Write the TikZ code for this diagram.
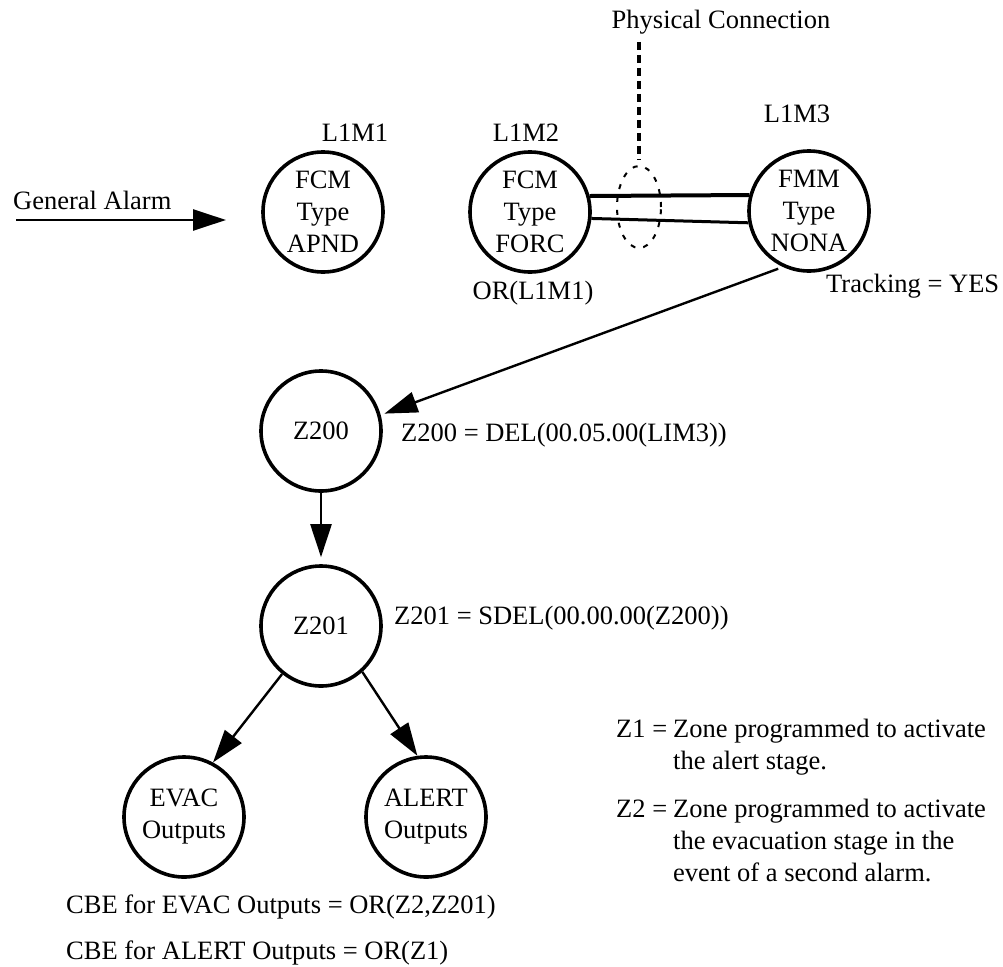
\documentclass[tikz,border=0pt]{standalone}
\usepackage{fontspec}
\setmainfont{Liberation Serif}
\usetikzlibrary{arrows.meta,shapes.geometric}

\begin{document}
\begin{tikzpicture}[x=1pt,y=-1pt,font=\fontsize{26.5}{32}\selectfont,
    zone/.style={circle,draw,line width=3.6pt,minimum size=120pt,inner sep=0pt,align=center},
    txt/.style={inner sep=0pt,anchor=base west},
    flow/.style={line width=2.4pt,-{Triangle[length=33pt,width=21pt]}}]
\useasboundingbox (0,0) rectangle (1003,966);

% modules on the loop
\node[zone] (l1m1) at (323,212) {FCM\\Type\\APND};
\node[zone] (l1m2) at (530,212) {FCM\\Type\\FORC};
\node[zone] (l1m3) at (809,211) {FMM\\Type\\NONA};
\node[txt,anchor=base] (n1) at (355,141) {L1M1};
\node[txt,anchor=base] (n2) at (526,141) {L1M2};
\node[txt,anchor=base] (n3) at (797,122) {L1M3};
\node[txt,anchor=base] (orl) at (533,299) {OR(L1M1)};
\node[txt] (track) at (826,292) {Tracking = YES};

% general alarm input
\node[txt] (galarm) at (13,209) {General Alarm};
\coordinate (gstart) at (16,220);
\coordinate (gend) at (226,220);
\draw[flow] (gstart) -- (gend);

% physical connection
\node[txt,anchor=base] (phys) at (721,29) {Physical Connection};
\node[ellipse,draw,line width=2pt,dash pattern=on 5pt off 8pt,
      minimum width=44pt,minimum height=82pt,inner sep=0pt] (plink) at (639,207) {};
\draw[line width=3.2pt,dash pattern=on 8pt off 5pt,shorten <=7pt,shorten >=6pt]
    (phys.south -| plink.north) -- (plink.north);
\draw[line width=4pt] (l1m2.15) -- (l1m3.165);
\draw[line width=3pt] (l1m2.-6) -- (l1m3.191);

% zones
\node[zone] (z200) at (321,431) {Z200};
\node[zone] (z201) at (321,626) {Z201};
\node[zone] (evac) at (184,817) {EVAC\\Outputs};
\node[zone] (alert) at (426,817) {ALERT\\Outputs};
\node[txt] (z200eq) at (401,441) {Z200 = DEL(00.05.00(LIM3))};
\node[txt] (z201eq) at (394,624) {Z201 = SDEL(00.00.00(Z200))};

\draw[flow,shorten <=5pt,shorten >=4pt] (l1m3.245) -- (z200.15);
\draw[flow,shorten >=7pt] (z200.south) -- (z201.north);
\draw[flow] (z201.231) -- (evac.62);
\draw[flow] (z201.312) -- (alert.98);

% legend
\node[txt] (k1) at (616,737) {Z1 =};
\node[txt] (d1a) at (673,737) {Zone programmed to activate};
\node[txt] (d1b) at (673,769) {the alert stage.};
\node[txt] (k2) at (616,817) {Z2 =};
\node[txt] (d2a) at (673,817) {Zone programmed to activate};
\node[txt] (d2b) at (673,849) {the evacuation stage in the};
\node[txt] (d2c) at (673,881) {event of a second alarm.};

\node[txt] (cbeevac) at (66,913) {CBE for EVAC Outputs = OR(Z2,Z201)};
\node[txt] (cbealert) at (66,959) {CBE for ALERT Outputs = OR(Z1)};
\end{tikzpicture}
\end{document}
